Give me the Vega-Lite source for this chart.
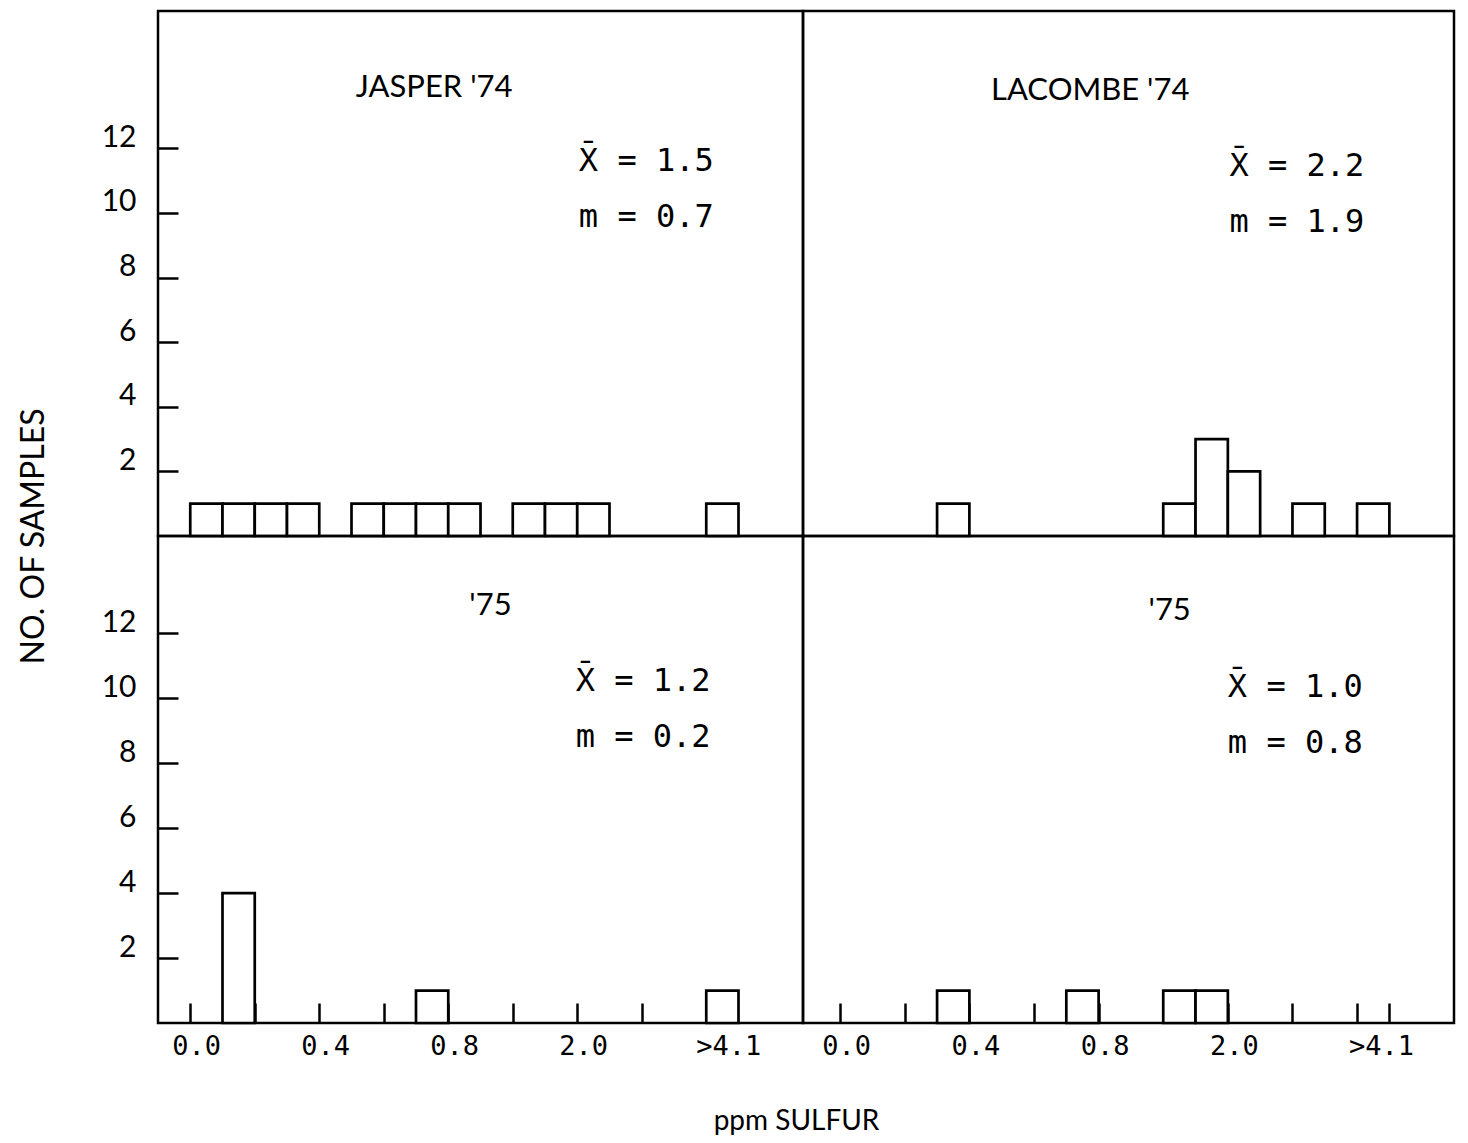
{
  "$schema": "https://vega.github.io/schema/vega-lite/v6.json",
  "background": "white",
  "padding": {"left": 15, "top": 9, "right": 5, "bottom": 5},
  "config": {
    "view": {"stroke": "black", "strokeWidth": 2.5},
    "text": {"color": "black"}
  },
  "datasets": {
    "jasper74": [
      {"bin": 0, "bin_end": 1, "samples": 1},
      {"bin": 1, "bin_end": 2, "samples": 1},
      {"bin": 2, "bin_end": 3, "samples": 1},
      {"bin": 3, "bin_end": 4, "samples": 1},
      {"bin": 5, "bin_end": 6, "samples": 1},
      {"bin": 6, "bin_end": 7, "samples": 1},
      {"bin": 7, "bin_end": 8, "samples": 1},
      {"bin": 8, "bin_end": 9, "samples": 1},
      {"bin": 10, "bin_end": 11, "samples": 1},
      {"bin": 11, "bin_end": 12, "samples": 1},
      {"bin": 12, "bin_end": 13, "samples": 1},
      {"bin": 16, "bin_end": 17, "samples": 1}
    ],
    "lacombe74": [
      {"bin": 3, "bin_end": 4, "samples": 1},
      {"bin": 10, "bin_end": 11, "samples": 1},
      {"bin": 11, "bin_end": 12, "samples": 3},
      {"bin": 12, "bin_end": 13, "samples": 2},
      {"bin": 14, "bin_end": 15, "samples": 1},
      {"bin": 16, "bin_end": 17, "samples": 1}
    ],
    "jasper75": [
      {"bin": 1, "bin_end": 2, "samples": 4},
      {"bin": 7, "bin_end": 8, "samples": 1},
      {"bin": 16, "bin_end": 17, "samples": 1}
    ],
    "lacombe75": [
      {"bin": 3, "bin_end": 4, "samples": 1},
      {"bin": 7, "bin_end": 8, "samples": 1},
      {"bin": 10, "bin_end": 11, "samples": 1},
      {"bin": 11, "bin_end": 12, "samples": 1}
    ]
  },
  "columns": 2,
  "spacing": 0,
  "bounds": "flush",
  "align": "each",
  "concat": [
    {
      "width": 645,
      "height": 525,
      "layer": [
        {
          "data": {"name": "jasper74"},
          "mark": {"type": "bar", "fill": "white", "stroke": "black", "strokeWidth": 2.7},
          "encoding": {
            "x": {"field": "bin", "type": "quantitative", "scale": {"domain": [-1, 19], "nice": false, "zero": false}, "axis": null},
            "x2": {"field": "bin_end"},
            "y": {
              "field": "samples", "type": "quantitative",
              "scale": {"domain": [0, 16.25], "nice": false},
              "axis": {
                "values": [2, 4, 6, 8, 10, 12],
                "tickSize": -20, "tickWidth": 2.5, "tickColor": "black",
                "domain": false, "grid": false,
                "labelFont": "Lato", "labelFontSize": 30, "labelColor": "black",
                "labelPadding": 42, "labelOffset": -11,
                "labelFlush": false, "labelOverlap": false,
                "title": "NO. OF SAMPLES",
                "titleFont": "Lato", "titleFontSize": 32, "titleFontWeight": "normal", "titleColor": "black",
                "titleAngle": 270, "titleX": -125, "titleY": 525,
                "titleAlign": "center", "titleBaseline": "middle"
              }
            },
            "y2": {"datum": 0}
          }
        },
        {
          "data": {"values": [{"site": "JASPER '74"}]},
          "mark": {"type": "text", "font": "Lato", "fontSize": 31, "align": "center", "baseline": "middle"},
          "encoding": {"x": {"datum": 7.56}, "y": {"datum": 13.87}, "text": {"field": "site"}}
        },
        {
          "data": {"values": [{}]},
          "mark": {"type": "text", "font": "DejaVu Sans Mono", "fontSize": 32, "align": "left", "baseline": "middle", "lineHeight": 56},
          "encoding": {"x": {"datum": 12.05}, "y": {"datum": 11.61}, "text": {"value": ["X̄ = 1.5", "m = 0.7"]}}
        }
      ]
    },
    {
      "width": 651,
      "height": 525,
      "layer": [
        {
          "data": {"name": "lacombe74"},
          "mark": {"type": "bar", "fill": "white", "stroke": "black", "strokeWidth": 2.7},
          "encoding": {
            "x": {"field": "bin", "type": "quantitative", "scale": {"domain": [-1.15, 19], "nice": false, "zero": false}, "axis": null},
            "x2": {"field": "bin_end"},
            "y": {"field": "samples", "type": "quantitative", "scale": {"domain": [0, 16.25], "nice": false}, "axis": null},
            "y2": {"datum": 0}
          }
        },
        {
          "data": {"values": [{"site": "LACOMBE '74"}]},
          "mark": {"type": "text", "font": "Lato", "fontSize": 31, "align": "center", "baseline": "middle"},
          "encoding": {"x": {"datum": 7.74}, "y": {"datum": 13.78}, "text": {"field": "site"}}
        },
        {
          "data": {"values": [{}]},
          "mark": {"type": "text", "font": "DejaVu Sans Mono", "fontSize": 32, "align": "left", "baseline": "middle", "lineHeight": 56},
          "encoding": {"x": {"datum": 12.05}, "y": {"datum": 11.46}, "text": {"value": ["X̄ = 2.2", "m = 1.9"]}}
        }
      ]
    },
    {
      "width": 645,
      "height": 487,
      "layer": [
        {
          "data": {"name": "jasper75"},
          "mark": {"type": "bar", "fill": "white", "stroke": "black", "strokeWidth": 2.7},
          "encoding": {
            "x": {
              "field": "bin", "type": "quantitative",
              "scale": {"domain": [-1, 19], "nice": false, "zero": false},
              "axis": {
                "values": [0, 2, 4, 6, 8, 10, 12, 14, 16],
                "tickSize": -20, "tickWidth": 2.5, "tickColor": "black",
                "domain": false, "grid": false,
                "labelExpr": "datum.value == 0 ? '0.0' : datum.value == 4 ? '0.4' : datum.value == 8 ? '0.8' : datum.value == 12 ? '2.0' : datum.value == 16 ? '>4.1' : ''",
                "labelFont": "DejaVu Sans Mono", "labelFontSize": 27, "labelColor": "black",
                "labelPadding": 30,
                "labelOffset": {"condition": {"test": "datum.value == 16", "value": 22}, "value": 6},
                "labelFlush": false, "labelOverlap": false, "labelBound": false,
                "title": "ppm SULFUR",
                "titleFont": "Lato", "titleFontSize": 28, "titleFontWeight": "normal", "titleColor": "black",
                "titleX": 638, "titleY": 98, "titleAlign": "center", "titleBaseline": "middle"
              }
            },
            "x2": {"field": "bin_end"},
            "y": {
              "field": "samples", "type": "quantitative",
              "scale": {"domain": [0, 15], "nice": false},
              "axis": {
                "values": [2, 4, 6, 8, 10, 12],
                "tickSize": -20, "tickWidth": 2.5, "tickColor": "black",
                "domain": false, "grid": false,
                "labelFont": "Lato", "labelFontSize": 30, "labelColor": "black",
                "labelPadding": 42, "labelOffset": -11,
                "labelFlush": false, "labelOverlap": false,
                "title": null
              }
            },
            "y2": {"datum": 0}
          }
        },
        {
          "data": {"values": [{"site": "'75"}]},
          "mark": {"type": "text", "font": "Lato", "fontSize": 31, "align": "center", "baseline": "middle"},
          "encoding": {"x": {"datum": 9.31}, "y": {"datum": 12.84}, "text": {"field": "site"}}
        },
        {
          "data": {"values": [{}]},
          "mark": {"type": "text", "font": "DejaVu Sans Mono", "fontSize": 32, "align": "left", "baseline": "middle", "lineHeight": 56},
          "encoding": {"x": {"datum": 11.95}, "y": {"datum": 10.53}, "text": {"value": ["X̄ = 1.2", "m = 0.2"]}}
        }
      ]
    },
    {
      "width": 651,
      "height": 487,
      "layer": [
        {
          "data": {"name": "lacombe75"},
          "mark": {"type": "bar", "fill": "white", "stroke": "black", "strokeWidth": 2.7},
          "encoding": {
            "x": {
              "field": "bin", "type": "quantitative",
              "scale": {"domain": [-1.15, 19], "nice": false, "zero": false},
              "axis": {
                "values": [0, 2, 4, 6, 8, 10, 12, 14, 16, 17],
                "tickSize": -20, "tickWidth": 2.5, "tickColor": "black",
                "domain": false, "grid": false,
                "labelExpr": "datum.value == 0 ? '0.0' : datum.value == 4 ? '0.4' : datum.value == 8 ? '0.8' : datum.value == 12 ? '2.0' : datum.value == 16 ? '>4.1' : ''",
                "labelFont": "DejaVu Sans Mono", "labelFontSize": 27, "labelColor": "black",
                "labelPadding": 30,
                "labelOffset": {"condition": {"test": "datum.value == 16", "value": 24}, "value": 6},
                "labelFlush": false, "labelOverlap": false, "labelBound": false,
                "title": null
              }
            },
            "x2": {"field": "bin_end"},
            "y": {"field": "samples", "type": "quantitative", "scale": {"domain": [0, 15], "nice": false}, "axis": null},
            "y2": {"datum": 0}
          }
        },
        {
          "data": {"values": [{"site": "'75"}]},
          "mark": {"type": "text", "font": "Lato", "fontSize": 31, "align": "center", "baseline": "middle"},
          "encoding": {"x": {"datum": 10.2}, "y": {"datum": 12.69}, "text": {"field": "site"}}
        },
        {
          "data": {"values": [{}]},
          "mark": {"type": "text", "font": "DejaVu Sans Mono", "fontSize": 32, "align": "left", "baseline": "middle", "lineHeight": 56},
          "encoding": {"x": {"datum": 12.0}, "y": {"datum": 10.35}, "text": {"value": ["X̄ = 1.0", "m = 0.8"]}}
        }
      ]
    }
  ]
}
